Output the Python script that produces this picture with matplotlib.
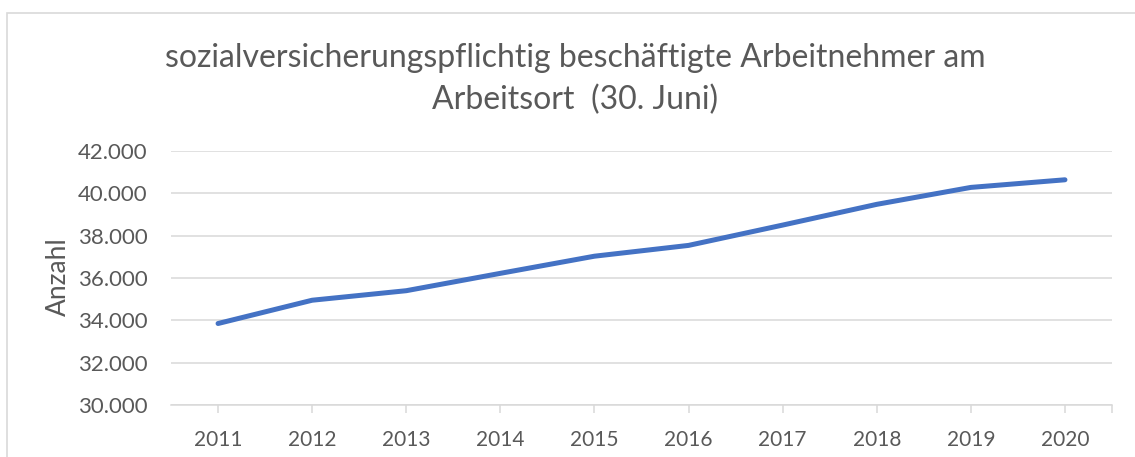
import matplotlib
matplotlib.use("Agg")
import matplotlib.pyplot as plt
from matplotlib.patches import Rectangle
from matplotlib.ticker import FuncFormatter, FixedLocator

years = [2011, 2012, 2013, 2014, 2015, 2016, 2017, 2018, 2019, 2020]
employees = [33850, 34950, 35400, 36220, 37030, 37540, 38500, 39480, 40280, 40640]
y_ticks = [30000, 32000, 34000, 36000, 38000, 40000, 42000]
title_lines = ["sozialversicherungspflichtig beschäftigte Arbeitnehmer am", "Arbeitsort  (30. Juni)"]
y_label = "Anzahl"

plt.rcParams['font.family'] = ['Lato', 'DejaVu Sans']
grey = "#595959"
grid_c = "#d9d9d9"

fig = plt.figure(figsize=(11.35, 4.57), dpi=100)
W, H = 1135, 457
ax = fig.add_axes([171 / W, 1 - 405 / H, (1112 - 171) / W, (405 - 151) / H])

# chart border
fig.patches.append(Rectangle((7 / W, -0.1), 1.2, 1 - 13 / H + 0.1, transform=fig.transFigure,
                             fill=False, edgecolor=grid_c, linewidth=1.2))

ax.plot(years, employees, color="#4472C4", linewidth=3.6, solid_capstyle="round",
        solid_joinstyle="round", zorder=3)

ax.set_xlim(2010.5, 2020.5)
ax.set_ylim(30000, 42000)
ax.set_yticks(y_ticks)
ax.yaxis.set_major_formatter(FuncFormatter(lambda v, p: f"{int(v):,}".replace(",", ".")))
ax.xaxis.set_major_locator(FixedLocator(years + [2020.5]))
ax.set_xticklabels([str(y) for y in years] + [""])

ax.grid(axis="y", color=grid_c, linewidth=1.1)
ax.set_axisbelow(True)
for s in ["top", "right", "left"]:
    ax.spines[s].set_visible(False)
ax.spines["bottom"].set_color(grid_c)
ax.spines["bottom"].set_linewidth(1.1)

ax.tick_params(axis="y", length=0, pad=17, labelsize=16, labelcolor=grey)
ax.tick_params(axis="x", length=6, width=1.1, color=grid_c, pad=12, labelsize=15, labelcolor=grey,
               direction="out")

fig.text(58 / W, 1 - 277 / H, y_label, rotation=90, ha="center", va="center",
         fontsize=19, color=grey)

fig.text(575 / W, 1 - 58 / H, title_lines[0], ha="center", va="center", fontsize=23, color=grey)
fig.text(575 / W, 1 - 100 / H, title_lines[1], ha="center", va="center", fontsize=23, color=grey)

fig.savefig("out.png", dpi=100)
